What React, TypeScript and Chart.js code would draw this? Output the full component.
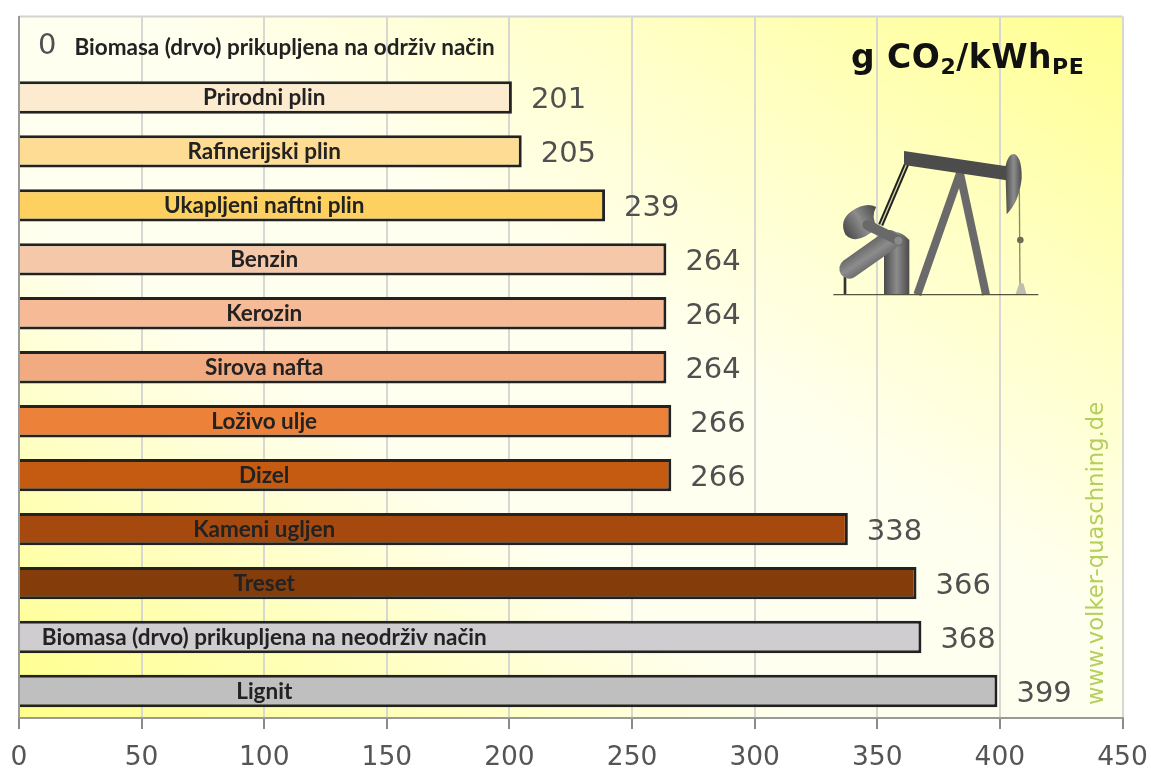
import React, { useEffect, useRef } from "react";
import { Chart, registerables } from "chart.js";

Chart.register(...registerables);

const categories: string[] = [
  "Biomasa (drvo) prikupljena na održiv način",
  "Prirodni plin",
  "Rafinerijski plin",
  "Ukapljeni naftni plin",
  "Benzin",
  "Kerozin",
  "Sirova nafta",
  "Loživo ulje",
  "Dizel",
  "Kameni ugljen",
  "Treset",
  "Biomasa (drvo) prikupljena na neodrživ način",
  "Lignit",
];
const emissions: number[] = [0, 201, 205, 239, 264, 264, 264, 266, 266, 338, 366, 368, 399];
const barColors: string[] = [
  "#fff2dc", "#fdebd0", "#fedc93", "#fdd060", "#f6c8aa", "#f6ba96", "#f2aa80",
  "#ec813a", "#c55a11", "#a5490f", "#843c0b", "#cfcdcf", "#bfbfbf",
];
const tickValues: number[] = [0, 50, 100, 150, 200, 250, 300, 350, 400, 450];
const titleParts: [string, boolean][] = [["g CO", false], ["2", true], ["/kWh", false], ["PE", true]];
const website = "www.volker-quaschning.de";
const LABEL_CENTER_VALUE = 100;

const NAME_FONT = 'bold 22.5px Lato, "Open Sans", sans-serif';
const VALUE_FONT = '29px "DejaVu Sans", sans-serif';

const backgroundPlugin = {
  id: "plotBackground",
  beforeDraw(chart: any) {
    const { ctx, chartArea: a } = chart;
    const w = a.right - a.left;
    const h = a.bottom - a.top;
    const cx = a.left + w / 2;
    const cy = a.top + h / 2;
    // gradient axis normal to the top-left / bottom-right diagonal
    const len = Math.hypot(w, h);
    const nx = h / len;
    const ny = -w / len;
    const reach = (w / 2) * nx + (h / 2) * -ny;
    const g = ctx.createLinearGradient(cx - nx * reach, cy - ny * reach, cx + nx * reach, cy + ny * reach);
    g.addColorStop(0, "#ffff8a");
    g.addColorStop(0.14, "#ffffb0");
    g.addColorStop(0.36, "#fffff0");
    g.addColorStop(0.56, "#fffff0");
    g.addColorStop(0.76, "#ffffc8");
    g.addColorStop(1, "#ffff90");
    ctx.save();
    ctx.fillStyle = "#ffffff";
    ctx.fillRect(0, 0, chart.width, chart.height);
    ctx.fillStyle = g;
    ctx.fillRect(a.left, a.top, w, h);
    ctx.strokeStyle = "#d4d4cf";
    ctx.lineWidth = 2;
    ctx.beginPath();
    ctx.moveTo(a.left, a.top);
    ctx.lineTo(a.right, a.top);
    ctx.stroke();
    ctx.restore();
  },
};

function drawPumpjack(ctx: CanvasRenderingContext2D) {
  const grey = (x0: number, y0: number, x1: number, y1: number) => {
    const g = ctx.createLinearGradient(x0, y0, x1, y1);
    g.addColorStop(0, "#4a4a4a");
    g.addColorStop(0.5, "#8c8c8c");
    g.addColorStop(1, "#4a4a4a");
    return g;
  };
  const line = (x0: number, y0: number, x1: number, y1: number, width: number, color: any, cap: CanvasLineCap = "butt") => {
    ctx.strokeStyle = color;
    ctx.lineWidth = width;
    ctx.lineCap = cap;
    ctx.beginPath();
    ctx.moveTo(x0, y0);
    ctx.lineTo(x1, y1);
    ctx.stroke();
  };
  ctx.save();
  ctx.translate(780, 20);
  ctx.scale(1 / 3, 1 / 3);

  // A-frame
  line(540, 460, 412, 824, 24, "#6a6a6a");
  line(540, 460, 618, 824, 24, "#6a6a6a");
  // pitman arms
  line(380, 432, 302, 615, 16, "#222");
  line(380, 432, 302, 615, 4, "#d8d8a8");
  // beam
  ctx.fillStyle = "#4c4c4c";
  ctx.beginPath();
  ctx.moveTo(372, 393);
  ctx.lineTo(690, 440);
  ctx.lineTo(690, 482);
  ctx.lineTo(372, 435);
  ctx.closePath();
  ctx.fill();
  // horse head
  ctx.fillStyle = grey(676, 490, 726, 490);
  ctx.beginPath();
  ctx.moveTo(676, 440);
  ctx.quadraticCurveTo(684, 400, 703, 402);
  ctx.quadraticCurveTo(726, 412, 725, 475);
  ctx.quadraticCurveTo(718, 545, 680, 583);
  ctx.closePath();
  ctx.fill();
  // polished rod
  line(718, 510, 720, 795, 4, "#8a8a62");
  ctx.fillStyle = "#6d6d55";
  ctx.beginPath();
  ctx.arc(721, 660, 10, 0, Math.PI * 2);
  ctx.fill();
  ctx.fillStyle = "#bdbdb0";
  ctx.beginPath();
  ctx.moveTo(706, 824);
  ctx.lineTo(718, 790);
  ctx.lineTo(730, 790);
  ctx.lineTo(740, 824);
  ctx.closePath();
  ctx.fill();
  // base leg
  line(195, 770, 195, 824, 8, "#333");
  // post
  ctx.fillStyle = grey(312, 730, 388, 730);
  ctx.beginPath();
  ctx.moveTo(312, 824);
  ctx.lineTo(312, 650);
  ctx.quadraticCurveTo(350, 618, 388, 660);
  ctx.lineTo(388, 824);
  ctx.closePath();
  ctx.fill();
  // sloped gearbox
  line(208, 746, 330, 660, 60, grey(195, 680, 265, 785), "round");
  // counterweight
  ctx.save();
  ctx.translate(243, 605);
  ctx.rotate(-0.55);
  ctx.fillStyle = grey(-60, 0, 60, 0);
  ctx.beginPath();
  ctx.moveTo(-60, 8);
  ctx.quadraticCurveTo(-55, -38, -8, -42);
  ctx.quadraticCurveTo(44, -44, 62, -14);
  ctx.quadraticCurveTo(30, 4, 34, 40);
  ctx.quadraticCurveTo(-50, 58, -60, 8);
  ctx.closePath();
  ctx.fill();
  ctx.restore();
  // crank
  line(262, 615, 358, 662, 30, "#696969", "round");
  ctx.fillStyle = "#8a8a8a";
  ctx.beginPath();
  ctx.arc(355, 662, 12, 0, Math.PI * 2);
  ctx.fill();
  // ground
  line(160, 824, 775, 824, 4, "#55553f");
  ctx.restore();
}

const overlayPlugin = {
  id: "overlay",
  afterDatasetsDraw(chart: any) {
    const { ctx } = chart;
    const xs = chart.scales.x;
    const ys = chart.scales.y;
    ctx.save();
    ctx.textBaseline = "middle";
    emissions.forEach((v, i) => {
      const y = ys.getPixelForValue(i);
      const xEnd = xs.getPixelForValue(v);
      const valueText = String(v);
      ctx.font = VALUE_FONT;
      ctx.fillStyle = "#505050";
      ctx.textAlign = "left";
      ctx.fillText(valueText, xEnd + 19, y + 3);
      const valueWidth = ctx.measureText(valueText).width;
      ctx.font = NAME_FONT;
      ctx.fillStyle = "#222222";
      if (v === 0) {
        ctx.textAlign = "left";
        ctx.fillText(categories[i], xEnd + 19 + valueWidth + 18, y + 4);
      } else {
        ctx.textAlign = "center";
        ctx.fillText(categories[i], xs.getPixelForValue(LABEL_CENTER_VALUE), y + 0.5);
      }
    });

    // title
    let x = 851;
    const baseline = 68;
    ctx.textAlign = "left";
    ctx.textBaseline = "alphabetic";
    ctx.fillStyle = "#111111";
    (ctx as any).letterSpacing = "0.5px";
    titleParts.forEach(([text, sub]) => {
      ctx.font = sub ? 'bold 22px "DejaVu Sans", sans-serif' : 'bold 33px "DejaVu Sans", sans-serif';
      ctx.fillText(text, x, sub ? baseline + 6 : baseline);
      x += ctx.measureText(text).width;
    });
    (ctx as any).letterSpacing = "0px";

    // website, rotated
    ctx.save();
    ctx.translate(1103, 705);
    ctx.rotate(-Math.PI / 2);
    ctx.font = '22.7px "DejaVu Sans", sans-serif';
    ctx.fillStyle = "#b4cf5c";
    ctx.fillText(website, 0, 0);
    ctx.restore();

    drawPumpjack(ctx);
    ctx.restore();
  },
};

export default function App() {
  const ref = useRef<HTMLCanvasElement | null>(null);
  useEffect(() => {
    if (!ref.current) return;
    const chart = new Chart(ref.current, {
      type: "bar",
      data: {
        labels: categories,
        datasets: [
          {
            data: emissions,
            backgroundColor: barColors,
            borderColor: "#222222",
            borderWidth: 3,
            barPercentage: 0.6,
            categoryPercentage: 1,
          },
        ],
      },
      options: {
        indexAxis: "y",
        responsive: false,
        animation: false,
        layout: { padding: { left: 19, right: 28.5, top: 16.5, bottom: 0 } },
        plugins: { legend: { display: false }, tooltip: { enabled: false }, title: { display: false } },
        scales: {
          x: {
            type: "linear",
            min: 0,
            max: 450,
            afterBuildTicks(axis: any) {
              axis.ticks = tickValues.map((value) => ({ value }));
            },
            afterFit(axis: any) {
              axis.height = 52;
              axis.paddingLeft = 0;
              axis.paddingRight = 0;
            },
            grid: { color: "#d8d8d2", lineWidth: 2, tickLength: 11, tickColor: "#8a8a8a" },
            border: { color: "#9a9a9a", width: 2 },
            ticks: {
              color: "#555555",
              padding: 13,
              maxRotation: 0,
              font: { family: '"DejaVu Sans", sans-serif', size: 26.5 },
            },
          },
          y: {
            type: "category",
            afterFit(axis: any) {
              axis.width = 0;
            },
            grid: { display: false },
            border: { color: "#9a9a9a", width: 2 },
            ticks: { display: false },
          },
        },
      },
      plugins: [backgroundPlugin, overlayPlugin],
    } as any);
    return () => chart.destroy();
  }, []);
  return (
    <canvas
      ref={ref}
      width={1151}
      height={770}
      style={{ position: "absolute", left: 0, top: 0, width: 1151, height: 770 }}
    />
  );
}
